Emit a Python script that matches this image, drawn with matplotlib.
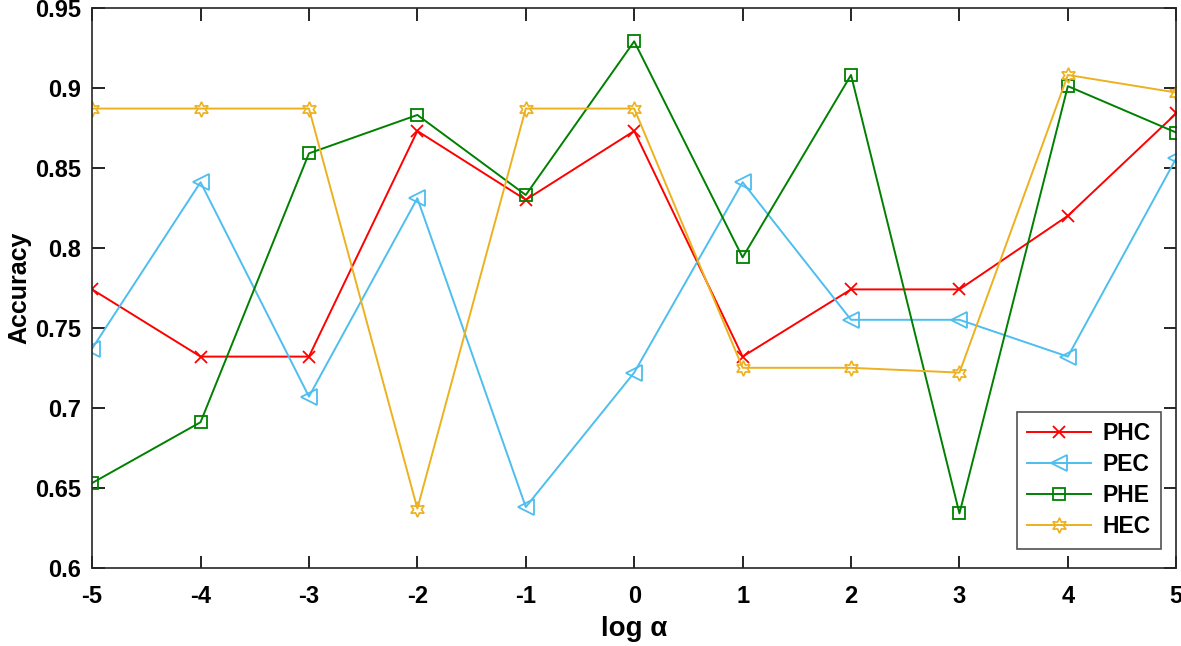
import matplotlib
matplotlib.use('Agg')
import matplotlib.pyplot as plt

plt.rcParams['font.family'] = ['Liberation Sans', 'DejaVu Sans']
plt.rcParams['font.weight'] = 'bold'

log_alpha = [-5, -4, -3, -2, -1, 0, 1, 2, 3, 4, 5]
phc = [0.774, 0.732, 0.732, 0.873, 0.830, 0.873, 0.732, 0.774, 0.774, 0.820, 0.884]
pec = [0.737, 0.841, 0.707, 0.831, 0.638, 0.722, 0.841, 0.755, 0.755, 0.732, 0.856]
phe = [0.653, 0.691, 0.859, 0.883, 0.833, 0.929, 0.794, 0.908, 0.634, 0.901, 0.872]
hec = [0.887, 0.887, 0.887, 0.637, 0.887, 0.887, 0.725, 0.725, 0.722, 0.908, 0.897]

yticks = [0.6, 0.65, 0.7, 0.75, 0.8, 0.85, 0.9, 0.95]
ytick_labels = ['0.6', '0.65', '0.7', '0.75', '0.8', '0.85', '0.9', '0.95']

fig = plt.figure(figsize=(11.81, 6.46), dpi=100)
ax = fig.add_axes([0.078, 0.121, 0.918, 0.867])

ax.plot(log_alpha, phc, color='#ff0000', marker='x', ms=9, mew=1.3, lw=1.4,
        mfc='none', label='PHC')
ax.plot(log_alpha, pec, color='#4dbeee', marker='<', ms=12, mew=1.3, lw=1.4,
        mfc='none', label='PEC')
ax.plot(log_alpha, phe, color='#008000', marker='s', ms=9, mew=1.3, lw=1.4,
        mfc='none', label='PHE')
ax.plot(log_alpha, hec, color='#edb120', marker=(6, 1, 0), ms=11, mew=1.2, lw=1.4,
        mfc='none', label='HEC')

ax.set_xlim(-5, 5)
ax.set_ylim(0.6, 0.95)
ax.set_xticks(log_alpha)
ax.set_xticklabels([str(v) for v in log_alpha])
ax.set_yticks(yticks)
ax.set_yticklabels(ytick_labels)
ax.tick_params(direction='in', length=9, width=1.2, labelsize=17, top=True, right=True)
ax.tick_params(axis='x', pad=12)
ax.tick_params(axis='y', pad=8)
for lab in ax.get_xticklabels() + ax.get_yticklabels():
    lab.set_fontweight('bold')
for s in ax.spines.values():
    s.set_linewidth(1.2)
    s.set_color('#262626')

ax.set_xlabel('log α', fontsize=20, fontweight='bold', labelpad=6)
ax.set_ylabel('Accuracy', fontsize=18, fontweight='bold')
ax.yaxis.set_label_coords(-0.056, 0.5)

leg = ax.legend(loc='lower right', bbox_to_anchor=(0.986, 0.034), fontsize=16.5,
                frameon=True, fancybox=False, edgecolor='#262626',
                handlelength=2.8, borderpad=0.45, labelspacing=0.35,
                handletextpad=0.5, borderaxespad=0)
leg.get_frame().set_linewidth(1.2)
for t in leg.get_texts():
    t.set_fontweight('bold')

fig.savefig('out.png', dpi=100)
